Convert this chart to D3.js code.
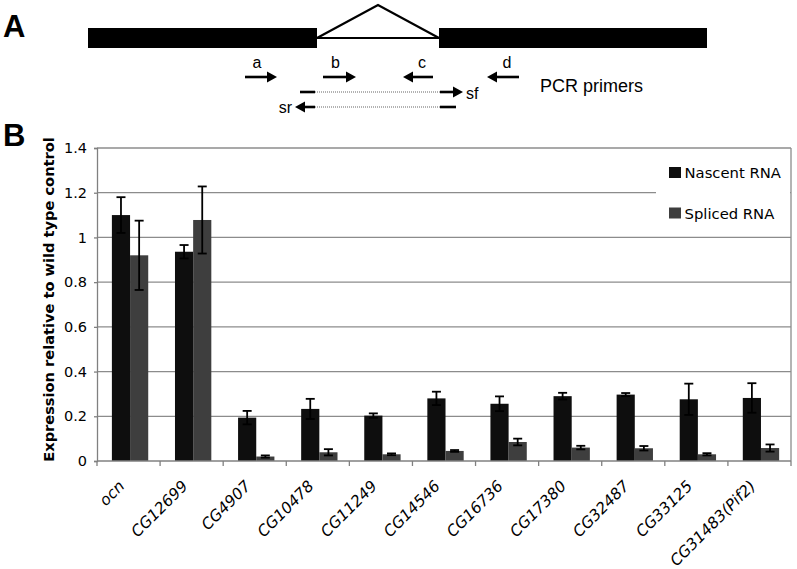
<!DOCTYPE html>
<html>
<head>
<meta charset="utf-8">
<script src="https://cdn.jsdelivr.net/npm/d3@7"></script>
<style>
  body { margin: 0; background: #fff; }
  svg { display: block; }
</style>
</head>
<body>
<div id="chart"></div>
<script>
// panel B data
var categories = ["ocn", "CG12699", "CG4907", "CG10478", "CG11249", "CG14546",
                  "CG16736", "CG17380", "CG32487", "CG33125", "CG31483(Pif2)"];
var nascent    = [1.10, 0.936, 0.194, 0.233, 0.203, 0.28, 0.256, 0.29, 0.297, 0.276, 0.282];
var nascentErr = [0.08, 0.03, 0.03, 0.045, 0.01, 0.03, 0.033, 0.015, 0.007, 0.07, 0.066];
var spliced    = [0.92, 1.078, 0.02, 0.039, 0.03, 0.045, 0.085, 0.06, 0.057, 0.03, 0.058];
var splicedErr = [0.155, 0.15, 0.005, 0.014, 0.004, 0.004, 0.015, 0.008, 0.01, 0.005, 0.016];
var yTicks = [0, 0.2, 0.4, 0.6, 0.8, 1, 1.2, 1.4];
var seriesNames = ["Nascent RNA", "Spliced RNA"];
var seriesColors = ["#0e0e0e", "#3e3e3e"];

// panel A: gene model (in gene units), primers
var exons = [[0, 229], [351, 619]];
var intron = [229, 351];
var primers = [
  {name: "a", from: 157, to: 189},
  {name: "b", from: 235, to: 268},
  {name: "c", from: 345, to: 315},
  {name: "d", from: 431, to: 399}
];

var W = 797, H = 569;
var svg = d3.select("#chart").append("svg")
    .attr("width", W)
    .attr("height", H);

// ---------- Panel A ----------
var gx = d3.scaleLinear().domain([0, 619]).range([88, 707]);

svg.append("text")
    .attr("x", 3).attr("y", 37)
    .attr("font-family", "Liberation Sans, Arial, sans-serif")
    .attr("font-weight", "bold")
    .attr("font-size", 31)
    .text("A");

svg.append("g").selectAll("rect")
  .data(exons)
  .join("rect")
    .attr("x", d => gx(d[0]))
    .attr("y", 28)
    .attr("width", d => gx(d[1]) - gx(d[0]))
    .attr("height", 20)
    .attr("fill", "#000");

svg.append("path")
    .attr("d", "M" + gx(intron[0]) + ",38 L" + gx((intron[0] + intron[1]) / 2) + ",5 L" +
               gx(intron[1]) + ",38 Z")
    .attr("fill", "none")
    .attr("stroke", "#000")
    .attr("stroke-width", 2.2)
    .attr("stroke-linejoin", "miter");

function arrow(g, x1, x2, y, w) {
  // shaft from x1 to tip x2
  var dir = x2 > x1 ? 1 : -1;
  var headLen = 10, headH = 5.5;
  g.append("line")
      .attr("x1", x1).attr("x2", x2 - dir * headLen)
      .attr("y1", y).attr("y2", y)
      .attr("stroke", "#000").attr("stroke-width", w || 2.6);
  g.append("path")
      .attr("d", "M" + x2 + "," + y + " L" + (x2 - dir * headLen) + "," + (y - headH) +
                 " L" + (x2 - dir * headLen) + "," + (y + headH) + " Z")
      .attr("fill", "#000");
}

var gA = svg.append("g");
primers.forEach(function(p) {
  arrow(gA, gx(p.from), gx(p.to), 77);
  gA.append("text")
      .attr("x", gx((p.from + p.to) / 2) + (p.to > p.from ? -4 : 4))
      .attr("y", 68)
      .attr("text-anchor", "middle")
      .attr("font-family", "Liberation Sans, Arial, sans-serif")
      .attr("font-size", 16)
      .text(p.name);
});

// spliced primers sf / sr
var sfY = 92, srY = 107;
gA.append("line").attr("x1", gx(212)).attr("x2", gx(227)).attr("y1", sfY).attr("y2", sfY)
    .attr("stroke", "#000").attr("stroke-width", 2.6);
gA.append("line").attr("x1", gx(227)).attr("x2", gx(352)).attr("y1", sfY).attr("y2", sfY)
    .attr("stroke", "#999").attr("stroke-width", 1.5).attr("stroke-dasharray", "1,1");
arrow(gA, gx(352), gx(375), sfY);
gA.append("text").attr("x", gx(378)).attr("y", 99)
    .attr("font-family", "Liberation Sans, Arial, sans-serif").attr("font-size", 16)
    .text("sf");

gA.append("line").attr("x1", gx(352)).attr("x2", gx(368)).attr("y1", srY).attr("y2", srY)
    .attr("stroke", "#000").attr("stroke-width", 2.6);
gA.append("line").attr("x1", gx(227)).attr("x2", gx(352)).attr("y1", srY).attr("y2", srY)
    .attr("stroke", "#999").attr("stroke-width", 1.5).attr("stroke-dasharray", "1,1");
arrow(gA, gx(227), gx(207), srY);
gA.append("text").attr("x", gx(204)).attr("y", 113)
    .attr("text-anchor", "end")
    .attr("font-family", "Liberation Sans, Arial, sans-serif").attr("font-size", 16)
    .text("sr");

gA.append("text").attr("x", 540).attr("y", 92)
    .attr("font-family", "Liberation Sans, Arial, sans-serif").attr("font-size", 18)
    .text("PCR primers");

// ---------- Panel B ----------
var plotLeft = 97, plotRight = 791, plotTop = 148, plotBottom = 461;

svg.append("text")
    .attr("x", 3).attr("y", 146)
    .attr("font-family", "Liberation Sans, Arial, sans-serif")
    .attr("font-weight", "bold")
    .attr("font-size", 31)
    .text("B");

var x = d3.scaleBand().domain(categories).range([plotLeft, plotRight]).padding(0);
var y = d3.scaleLinear().domain([0, 1.4]).range([plotBottom, plotTop]);

// grid lines
svg.append("g").selectAll("line")
  .data(yTicks.filter(d => d > 0))
  .join("line")
    .attr("x1", plotLeft).attr("x2", plotRight)
    .attr("y1", d => y(d)).attr("y2", d => y(d))
    .attr("stroke", "#8c8c8c").attr("stroke-width", 1.3);

// right border
svg.append("line")
    .attr("x1", plotRight).attr("x2", plotRight).attr("y1", plotTop).attr("y2", plotBottom)
    .attr("stroke", "#8c8c8c").attr("stroke-width", 1.3);

// legend box (covers part of 1.2 grid line)
var legend = svg.append("g");
legend.append("rect")
    .attr("x", 656).attr("y", 150).attr("width", plotRight - 657).attr("height", 80)
    .attr("fill", "#fff");
legend.selectAll("g")
  .data(seriesNames)
  .join("g")
    .attr("transform", (d, i) => "translate(669," + (167 + i * 40.5) + ")")
    .each(function(d, i) {
      var g = d3.select(this);
      g.append("rect").attr("width", 12).attr("height", 11).attr("fill", seriesColors[i]);
      g.append("text").attr("x", 15.5).attr("y", 11)
          .attr("font-family", "DejaVu Sans, Verdana, sans-serif")
          .attr("font-size", 14.8)
          .text(d);
    });

// bars
var bw = x.bandwidth() * 0.288;
var off = x.bandwidth() * 0.236;
var series = [
  {vals: nascent, err: nascentErr, color: seriesColors[0], dx: off},
  {vals: spliced, err: splicedErr, color: seriesColors[1], dx: off + bw}
];

series.forEach(function(s) {
  var g = svg.append("g");
  g.selectAll("rect")
    .data(categories)
    .join("rect")
      .attr("x", (d, i) => x(d) + s.dx)
      .attr("y", (d, i) => y(s.vals[i]))
      .attr("width", bw)
      .attr("height", (d, i) => y(0) - y(s.vals[i]))
      .attr("fill", s.color);
});

// error bars
series.forEach(function(s) {
  var g = svg.append("g").attr("stroke", "#000").attr("stroke-width", 1.8);
  categories.forEach(function(c, i) {
    var cx = x(c) + s.dx + bw / 2;
    var hi = y(s.vals[i] + s.err[i]), lo = y(s.vals[i] - s.err[i]);
    g.append("line").attr("x1", cx).attr("x2", cx).attr("y1", hi).attr("y2", lo);
    g.append("line").attr("x1", cx - 4.5).attr("x2", cx + 4.5).attr("y1", hi).attr("y2", hi);
    g.append("line").attr("x1", cx - 4.5).attr("x2", cx + 4.5).attr("y1", lo).attr("y2", lo);
  });
});

// y axis
var yAxisG = svg.append("g")
    .attr("transform", "translate(" + plotLeft + ",0)")
    .call(d3.axisLeft(y).tickValues(yTicks).tickSize(3).tickPadding(7)
          .tickFormat(d => d3.format("")(Math.round(d * 10) / 10)));
yAxisG.selectAll("path, line").attr("stroke", "#808080").attr("stroke-width", 1.3);
yAxisG.selectAll("text")
    .attr("font-family", "DejaVu Sans, Verdana, sans-serif")
    .attr("font-size", 14.5)
    .attr("fill", "#000");

// x axis line and ticks at band edges
svg.append("line")
    .attr("x1", plotLeft).attr("x2", plotRight).attr("y1", plotBottom).attr("y2", plotBottom)
    .attr("stroke", "#808080").attr("stroke-width", 1.5);
svg.append("g").selectAll("line")
  .data(categories.concat(["end"]))
  .join("line")
    .attr("x1", (d, i) => plotLeft + i * x.step())
    .attr("x2", (d, i) => plotLeft + i * x.step())
    .attr("y1", plotBottom).attr("y2", plotBottom + 5)
    .attr("stroke", "#808080").attr("stroke-width", 1.3);

// x labels
svg.append("g").selectAll("text")
  .data(categories)
  .join("text")
    .attr("transform", d => "translate(" + (x(d) + x.bandwidth() / 2 - 3) + ",487) rotate(-45)")
    .attr("text-anchor", "end")
    .attr("font-family", "DejaVu Sans, Verdana, sans-serif")
    .attr("font-style", "italic")
    .attr("font-size", 15.5)
    .text(d => d);

// y title
svg.append("text")
    .attr("transform", "translate(54," + ((plotTop + plotBottom) / 2 - 5) + ") rotate(-90)")
    .attr("text-anchor", "middle")
    .attr("font-family", "DejaVu Sans, Verdana, sans-serif")
    .attr("font-weight", "bold")
    .attr("font-size", 14.6)
    .text("Expression relative to wild type control");
</script>
</body>
</html>
